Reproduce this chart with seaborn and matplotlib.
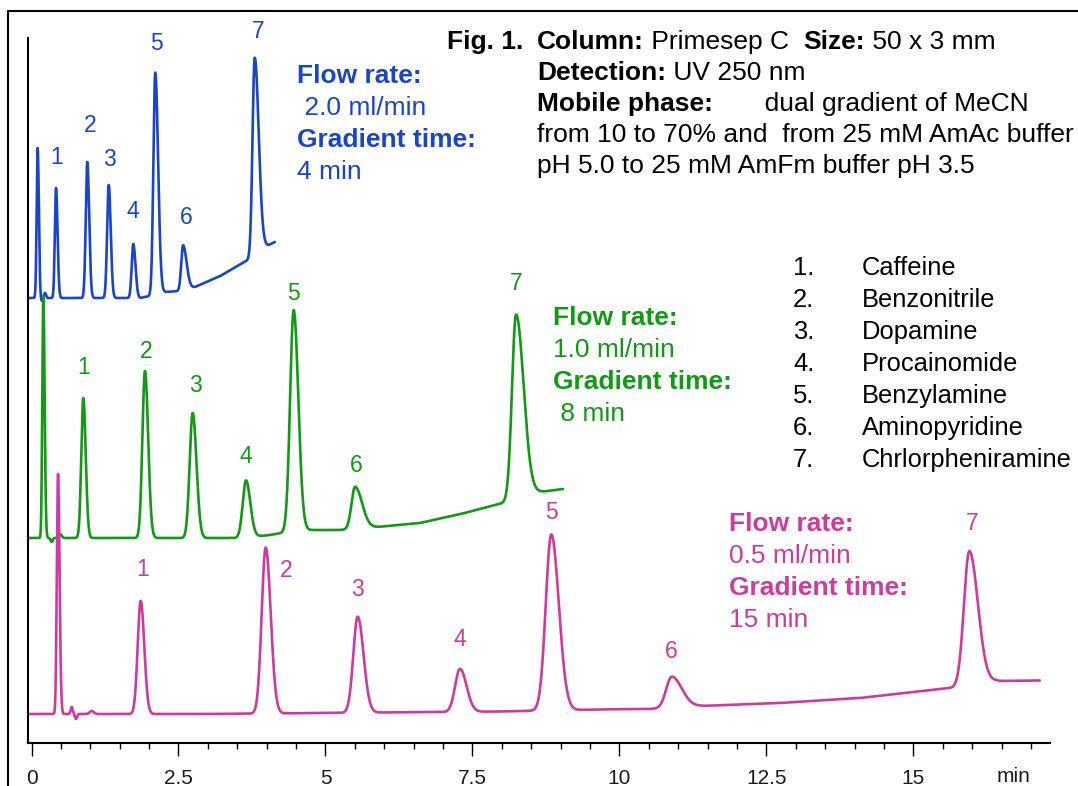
import matplotlib

matplotlib.use("Agg")
import matplotlib.pyplot as plt
import numpy as np
import seaborn as sns
from matplotlib.lines import Line2D
from matplotlib.ticker import MultipleLocator

FIG_W, FIG_H = 1078, 786
PX_PER_MIN = 58.8          # horizontal scale of the x axis in the picture
T_STEP = 0.001

# ---- 2.0 ml/min, 4 min gradient (blue) ----
BLUE_BASE_TIMES = [-0.043, 1.845, 2.015, 2.27, 2.53, 2.78, 3.21, 3.68, 3.97, 4.14]
BLUE_BASE_LEVELS = [0, 0, 2, 6, 7, 11, 22, 38, 51, 56]
BLUE_PEAK_TIMES = [0.105, 0.173, 0.230, 0.417, 0.949, 1.313, 1.731, 2.105, 2.577, 3.796]
BLUE_PEAK_HEIGHTS = [150, -3, 5, 110, 136, 113, 54, 222, 45, 197]
BLUE_SIGMA_LEFT = [0.017, 0.014, 0.017, 0.020, 0.026, 0.027, 0.027, 0.032, 0.031, 0.037]
BLUE_SIGMA_RIGHT = [0.020, 0.014, 0.017, 0.026, 0.032, 0.034, 0.037, 0.048, 0.060, 0.068]
BLUE_LABELS = ["", "", "", "1", "2", "3", "4", "5", "6", "7"]

# ---- 1.0 ml/min, 8 min gradient (green) ----
GREEN_BASE_TIMES = [-0.043, 3.546, 4.056, 4.566, 5.247, 5.876, 6.607, 7.3, 8.019, 8.308, 8.648, 9.039]
GREEN_BASE_LEVELS = [0, 0, 3, 8, 8, 11, 15, 24, 35, 42, 46, 49]
GREEN_PEAK_TIMES = [0.201, 0.344, 0.485, 0.881, 1.930, 2.741, 3.648, 4.459, 5.502, 8.240]
GREEN_PEAK_HEIGHTS = [242, -4, 4, 140, 167, 125, 57, 221, 42, 183]
GREEN_SIGMA_LEFT = [0.017, 0.017, 0.026, 0.034, 0.044, 0.051, 0.056, 0.061, 0.060, 0.068]
GREEN_SIGMA_RIGHT = [0.022, 0.017, 0.026, 0.041, 0.054, 0.065, 0.073, 0.078, 0.119, 0.128]
GREEN_LABELS = ["", "", "", "1", "2", "3", "4", "5", "6", "7"]

# ---- 0.5 ml/min, 15 min gradient (magenta) ----
PINK_BASE_TIMES = [-0.03, 2.98, 5.93, 7.97, 9.79, 10.52, 11.37, 12.73, 14.09, 15.62, 15.88, 16.39, 17.15]
PINK_BASE_LEVELS = [0, 0, 1.5, 2.5, 4.7, 5, 8, 11, 16, 26, 27, 33, 33.5]
PINK_PEAK_TIMES = [0.451, 0.684, 0.757, 1.024, 1.857, 3.983, 5.548, 7.287, 8.840, 10.888, 15.949]
PINK_PEAK_HEIGHTS = [240, 7, -5, 3, 113, 166, 96, 43, 176, 31, 135]
PINK_SIGMA_LEFT = [0.020, 0.017, 0.017, 0.034, 0.051, 0.068, 0.075, 0.082, 0.094, 0.094, 0.092]
PINK_SIGMA_RIGHT = [0.026, 0.017, 0.017, 0.034, 0.061, 0.085, 0.099, 0.111, 0.128, 0.170, 0.145]
PINK_LABELS = ["", "", "", "", "1", "2", "3", "4", "5", "6", "7"]

COMPOUND_NUMBERS = ["1.", "2.", "3.", "4.", "5.", "6.", "7."]
COMPOUND_NAMES = ["Caffeine", "Benzonitrile", "Dopamine", "Procainomide",
                  "Benzylamine", "Aminopyridine", "Chrlorpheniramine"]

X_TICKS = [0, 2.5, 5, 7.5, 10, 12.5, 15]
X_TICK_LABELS = ["0", "2.5", "5", "7.5", "10", "12.5", "15"]

# layout / style (kept apart from the data)
BLUE, GREEN, PINK = "#1a44cc", "#119a14", "#cf3a9c"
TRACE_OFFSETS = {"blue": 445, "green": 205, "pink": 29}
LABEL_DY = {"blue": [30, 37, 26, 33, 29, 28, 26],
            "green": [31, 19, 27, 24, 17, 21, 31],
            "pink": [31, -23, 27, 29, 22, 25, 28]}
LABEL_DX = {"blue": [1, 3, 1, 0, 1, 3, 3],
            "green": [0, 1, 3, 0, 0, 1, 0],
            "pink": [2, 20, 0, 0, 0, 0, 3]}
TEXT_SIZE = 19
LIST_SIZE = 18.4
PEAK_LABEL_SIZE = 16.5


def build_trace(base_t, base_v, peak_t, peak_h, sig_l, sig_r):
    t = np.arange(base_t[0], base_t[-1], T_STEP)
    baseline = np.interp(t, base_t, base_v)
    y = baseline.copy()
    apexes = []
    for t0, h, sl, sr in zip(peak_t, peak_h, sig_l, sig_r):
        s = np.where(t < t0, sl, sr)
        y += h * np.exp(-0.5 * ((t - t0) / s) ** 2)
        apexes.append(np.interp(t0, base_t, base_v) + h)
    return t, y, apexes


def fig_xy(px, py):
    return px / FIG_W, 1 - py / FIG_H


def draw_text_line(fig, ax, px, py, segments, color, size=TEXT_SIZE):
    x, y = fig_xy(px, py)
    prev = None
    for text, weight in segments:
        if prev is None:
            prev = fig.text(x, y, text, fontsize=size, fontweight=weight,
                            color=color, ha="left", va="baseline")
        else:
            prev = ax.annotate(text, xy=(1, 0), xycoords=prev, fontsize=size,
                               fontweight=weight, color=color, ha="left",
                               va="bottom", annotation_clip=False)


sns.set_style("white")
plt.rcParams["font.family"] = ["Liberation Sans", "DejaVu Sans"]

fig = plt.figure(figsize=(FIG_W / 100, FIG_H / 100), dpi=100)
ax = fig.add_axes([28 / FIG_W, (FIG_H - 743) / FIG_H, (1050 - 28) / FIG_W, (743 - 38) / FIG_H])

traces = [
    ("blue", BLUE, BLUE_BASE_TIMES, BLUE_BASE_LEVELS, BLUE_PEAK_TIMES, BLUE_PEAK_HEIGHTS,
     BLUE_SIGMA_LEFT, BLUE_SIGMA_RIGHT, BLUE_LABELS),
    ("green", GREEN, GREEN_BASE_TIMES, GREEN_BASE_LEVELS, GREEN_PEAK_TIMES, GREEN_PEAK_HEIGHTS,
     GREEN_SIGMA_LEFT, GREEN_SIGMA_RIGHT, GREEN_LABELS),
    ("pink", PINK, PINK_BASE_TIMES, PINK_BASE_LEVELS, PINK_PEAK_TIMES, PINK_PEAK_HEIGHTS,
     PINK_SIGMA_LEFT, PINK_SIGMA_RIGHT, PINK_LABELS),
]

for key, color, bt, bv, pt, ph, sl, sr, labels in traces:
    t, y, apexes = build_trace(bt, bv, pt, ph, sl, sr)
    off = TRACE_OFFSETS[key]
    sns.lineplot(x=t, y=y + off, ax=ax, color=color, linewidth=1.9,
                 estimator=None, sort=False)
    k = 0
    for t0, apex, lab in zip(pt, apexes, labels):
        if not lab:
            continue
        ax.text(t0 + LABEL_DX[key][k] / PX_PER_MIN, apex + off + LABEL_DY[key][k], lab,
                color=color, fontsize=PEAK_LABEL_SIZE, ha="center", va="center")
        k += 1

ax.set_xlim((28 - 31.5) / PX_PER_MIN, (1050 - 31.5) / PX_PER_MIN)
ax.set_ylim(0, 705)
ax.set_yticks([])
ax.set_xticks(X_TICKS)
ax.set_xticklabels(X_TICK_LABELS)
ax.xaxis.set_minor_locator(MultipleLocator(0.5))
ax.tick_params(axis="x", which="major", direction="out", length=9, width=1.0,
               pad=9.5, labelsize=15, labelcolor="#1a1a1a", color="black", bottom=True)
ax.tick_params(axis="x", which="minor", direction="out", length=4.5, width=1.0,
               color="black", bottom=True)
for side in ("top", "right"):
    ax.spines[side].set_visible(False)
for side in ("left", "bottom"):
    ax.spines[side].set_color("black")
    ax.spines[side].set_linewidth(1.5)
ax.text(16.7, -38.5, "min", fontsize=15, color="#1a1a1a", ha="center", va="baseline",
        clip_on=False)

# outer frame of the figure panel
fig.add_artist(Line2D([8.3 / FIG_W, 8.3 / FIG_W], [0, 1 - 11 / FIG_H],
                      transform=fig.transFigure, color="black", lw=1.5))
fig.add_artist(Line2D([8.3 / FIG_W, 1], [1 - 11 / FIG_H, 1 - 11 / FIG_H],
                      transform=fig.transFigure, color="black", lw=1.5))

# header
draw_text_line(fig, ax, 447, 49, [("Fig. 1.", "bold")], "black")
header = [
    [("Column:", "bold"), (" Primesep C  ", "normal"), ("Size:", "bold"), (" 50 x 3 mm", "normal")],
    [("Detection:", "bold"), (" UV 250 nm", "normal")],
    [("Mobile phase:", "bold"), ("       dual gradient of MeCN", "normal")],
    [("from 10 to 70% and  from 25 mM AmAc buffer", "normal")],
    [("pH 5.0 to 25 mM AmFm buffer pH 3.5", "normal")],
]
for i, segs in enumerate(header):
    draw_text_line(fig, ax, 537, 49 + 31 * i, segs, "black")

# conditions next to each trace
conditions = [
    (297, 83, BLUE, ["Flow rate:", " 2.0 ml/min", "Gradient time:", "4 min"]),
    (553, 325, GREEN, ["Flow rate:", "1.0 ml/min", "Gradient time:", " 8 min"]),
    (729, 531, PINK, ["Flow rate:", "0.5 ml/min", "Gradient time:", "15 min"]),
]
for px, py, color, lines in conditions:
    for i, line in enumerate(lines):
        weight = "bold" if i % 2 == 0 else "normal"
        draw_text_line(fig, ax, px, py + 32 * i, [(line, weight)], color)

# compound list
for i, (num, name) in enumerate(zip(COMPOUND_NUMBERS, COMPOUND_NAMES)):
    draw_text_line(fig, ax, 793, 275 + 32 * i, [(num, "normal")], "black", size=LIST_SIZE)
    draw_text_line(fig, ax, 862, 275 + 32 * i, [(name, "normal")], "black", size=LIST_SIZE)

fig.savefig("out.png", dpi=100)
